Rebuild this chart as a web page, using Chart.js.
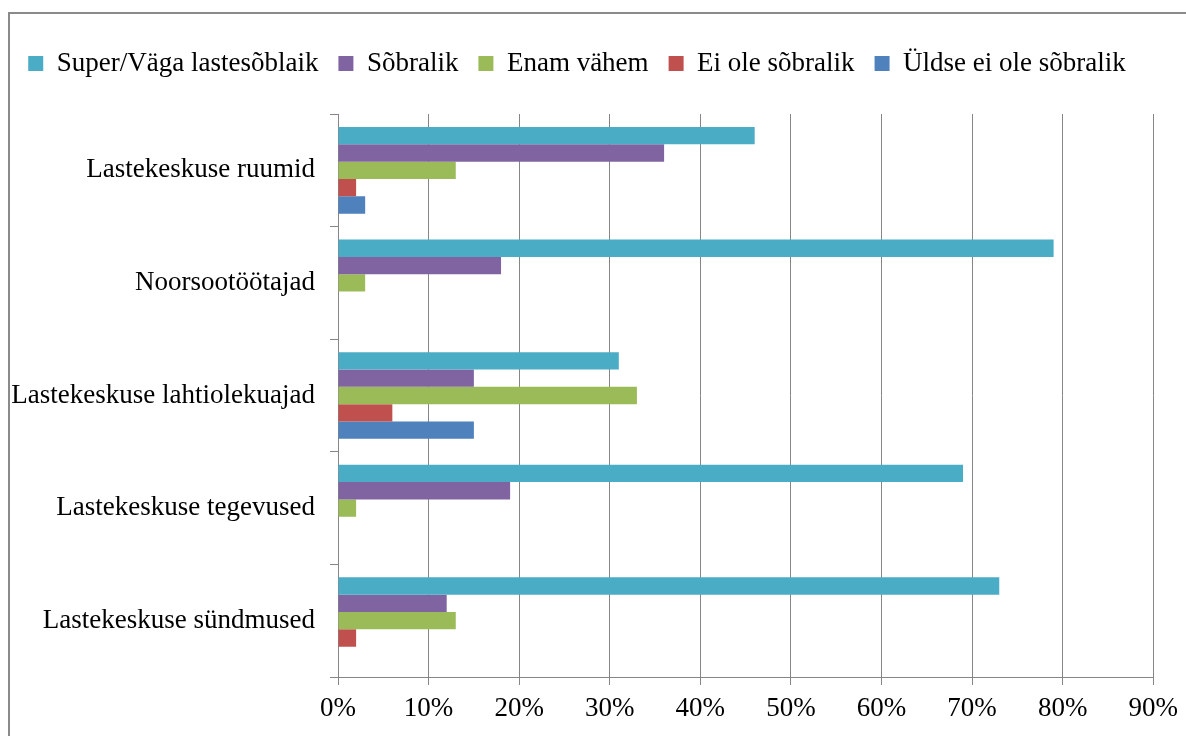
<!DOCTYPE html>
<html>
<head>
<meta charset="utf-8">
<script src="https://cdn.jsdelivr.net/npm/chart.js@4.4.1/dist/chart.umd.min.js"></script>
<style>
    html, body { margin: 0; padding: 0; background: #fff; overflow: hidden; }
    #frame {
        position: absolute; left: 8px; top: 12px; width: 1200px; height: 740px;
        border-left: 2px solid #8a8a8a; border-top: 2px solid #8a8a8a;
    }
    #wrap { position: absolute; left: 0; top: 0; width: 1186px; height: 736px; }
</style>
</head>
<body>
<div id="frame"></div>
<div id="wrap"><canvas id="surveyChart" width="1186" height="736"></canvas></div>
<script>
// categories (top to bottom)
const categories = [
    'Lastekeskuse ruumid',
    'Noorsootöötajad',
    'Lastekeskuse lahtiolekuajad',
    'Lastekeskuse tegevused',
    'Lastekeskuse sündmused'
];

// series values in percent
const superValues = [46, 79, 31, 69, 73];
const sobralikValues = [36, 18, 15, 19, 12];
const enamValues = [13, 3, 33, 2, 13];
const eiValues = [2, 0, 6, 0, 2];
const uldseValues = [3, 0, 15, 0, 0];

// x axis ticks
const tickMin = 0;
const tickMax = 90;
const tickStep = 10;

const gridColor = '#868686';
const font = { family: '"Liberation Serif", "Times New Roman", serif', size: 27 };

const ctx = document.getElementById('surveyChart').getContext('2d');

new Chart(ctx, {
    type: 'bar',
    data: {
        labels: categories,
        datasets: [
            { label: 'Super/Väga lastesõblaik', data: superValues, backgroundColor: '#4BACC6' },
            { label: 'Sõbralik', data: sobralikValues, backgroundColor: '#8064A2' },
            { label: 'Enam vähem', data: enamValues, backgroundColor: '#9BBB59' },
            { label: 'Ei ole sõbralik', data: eiValues, backgroundColor: '#C0504D' },
            { label: 'Üldse ei ole sõbralik', data: uldseValues, backgroundColor: '#4F81BD' }
        ]
    },
    options: {
        indexAxis: 'y',
        responsive: false,
        animation: false,
        categoryPercentage: 0.77,
        barPercentage: 1,
        layout: { padding: { top: 30, right: 32, left: 0, bottom: 0 } },
        scales: {
            x: {
                type: 'linear',
                position: 'bottom',
                min: tickMin,
                max: tickMax,
                ticks: {
                    stepSize: tickStep,
                    color: '#000',
                    font: font,
                    padding: 8,
                    callback: v => v + '%'
                },
                grid: { color: gridColor, tickLength: 8, lineWidth: 1 },
                border: { display: true, color: gridColor },
                afterFit: s => { s.height = 59; }
            },
            // empty spacer between the legend and the plot
            x2: {
                type: 'linear',
                position: 'top',
                display: true,
                ticks: { display: false },
                grid: { display: false },
                border: { display: false },
                afterFit: s => { s.height = 27; }
            },
            y: {
                offset: true,
                ticks: { color: '#000', font: font, padding: 15 },
                grid: { offset: true, drawOnChartArea: false, color: gridColor, tickLength: 8 },
                border: { display: true, color: gridColor },
                afterFit: s => { s.width = 338; }
            }
        },
        plugins: {
            legend: {
                position: 'top',
                labels: {
                    color: '#000',
                    font: font,
                    boxWidth: 15,
                    boxHeight: 15,
                    padding: 20
                }
            },
            tooltip: { enabled: false }
        }
    }
});
</script>
</body>
</html>
